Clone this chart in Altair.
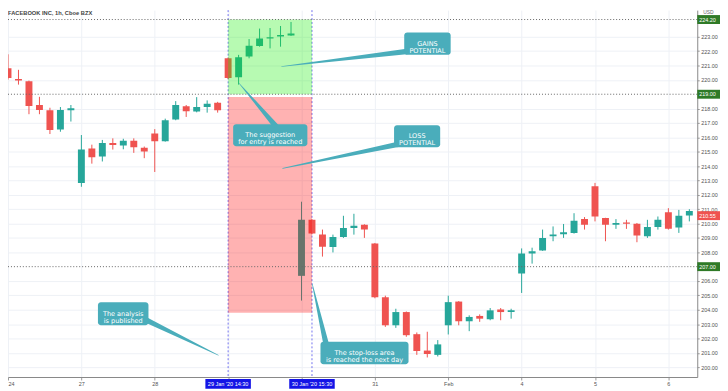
import altair as alt
import pandas as pd

# ---------------- data ----------------
idx = list(range(67))
opens = [220.24, 220.81, 220.06, 219.90, 218.25, 217.88, 216.55, 217.88,
         212.83, 215.22, 214.67, 215.61, 215.43, 215.77, 215.27,
         216.27, 215.72, 217.24, 218.16, 217.79, 218.11, 218.41,
         221.50, 220.19, 221.62, 222.36, 222.88, 223.02, 223.08,
         206.36, 210.26, 209.23, 208.36, 209.07, 209.69, 209.92,
         208.61, 204.87, 202.92, 203.84, 202.30, 201.16, 200.86,
         202.92, 204.57, 203.20, 203.57, 203.34, 204.02, 203.84,
         206.53, 207.92, 208.13, 209.11, 209.25, 209.35, 210.31,
         212.60, 210.38, 209.92, 210.08, 209.99, 209.11,
         209.76, 210.79, 209.73, 210.56]
highs = [220.45, 221.78, 220.70, 219.95, 218.82, 218.06, 218.11, 218.25,
         216.16, 215.49, 215.82, 215.93, 215.90, 215.93, 215.36,
         216.57, 217.30, 218.52, 218.25, 218.80, 218.57, 218.47,
         221.55, 221.74, 222.84, 223.57, 223.61, 223.75, 224.03,
         211.52, 210.30, 209.58, 209.23, 210.54, 210.68, 209.95,
         208.65, 204.98, 204.07, 203.88, 202.42, 202.47, 201.89,
         204.98, 204.60, 203.61, 203.68, 204.12, 204.12, 204.07,
         208.27, 208.32, 209.58, 209.80, 209.97, 210.72, 210.45,
         212.83, 210.40, 210.31, 210.26, 210.04, 210.26,
         210.49, 211.07, 210.95, 211.00]
lows = [219.60, 220.02, 219.67, 217.61, 217.61, 216.23, 216.39, 217.10,
        212.56, 214.17, 214.32, 215.15, 215.17, 214.92, 214.55,
        213.59, 215.70, 217.19, 217.42, 217.74, 217.72, 217.72,
        220.05, 219.67, 221.50, 222.31, 222.19, 222.31, 223.06,
        204.64, 209.25, 207.70, 207.99, 209.00, 209.23, 209.00,
        204.80, 202.81, 202.74, 202.12, 200.86, 200.68, 200.75,
        202.28, 202.92, 202.51, 203.16, 203.27, 203.27, 203.38,
        205.17, 207.21, 208.10, 208.77, 209.00, 209.30, 209.58,
        210.15, 208.77, 209.63, 209.63, 208.70, 209.00,
        209.58, 209.58, 209.35, 210.15]
closes = [219.76, 220.13, 219.95, 218.18, 217.90, 216.51, 217.90, 218.02,
          215.15, 214.62, 215.61, 215.47, 215.77, 215.31, 215.01,
          215.72, 217.19, 218.25, 217.81, 218.11, 218.34, 217.88,
          220.13, 221.57, 222.38, 222.88, 222.97, 223.13, 223.22,
          210.26, 209.30, 208.39, 209.07, 209.69, 209.85, 209.58,
          204.87, 202.92, 203.84, 202.23, 201.13, 200.92, 201.59,
          204.53, 203.20, 203.50, 203.38, 203.96, 203.84, 203.96,
          207.92, 208.08, 209.00, 209.23, 209.39, 210.19, 209.92,
          210.49, 209.92, 210.04, 209.99, 209.16, 209.76,
          210.26, 209.64, 210.54, 210.88]

# day ticks (labels for 29 and 30 Jan are hidden behind the crosshair tags)
day_ticks = [1, 8, 15, 22, 29, 36, 43, 50, 57, 64]
day_labels = ["24", "27", "28", "", "", "31", "Feb", "4", "5", "6"]

price_ticks = [200, 201, 202, 203, 204, 205, 206, 208, 209, 210, 211, 212,
               213, 214, 215, 216, 217, 218, 220, 221, 222, 223]

level_values = [224.20, 219.00, 207.00]
last_price = [210.55]

zone_names = ["gain", "loss"]
zone_i0 = [22, 22]
zone_i1 = [30, 30]
zone_lo = [219.0, 203.8]
zone_hi = [224.2, 218.8]

marker_i = [22, 30]
marker_labels = ["29 Jan '20   14:30", "30 Jan '20   15:30"]

callout_text = ["GAINS\nPOTENTIAL", "LOSS\nPOTENTIAL",
                "The suggestion\nfor entry is reached",
                "The analysis\nis published",
                "The stop-loss area\nis reached the next day"]
callout_i0 = [38.80, 37.83, 22.48, 9.58, 30.81]
callout_i1 = [43.23, 42.23, 29.56, 14.40, 39.21]
callout_lo = [221.74, 215.31, 215.38, 202.92, 200.21]
callout_hi = [223.29, 216.85, 216.92, 204.53, 201.78]
base_i = [40.41, 39.46, 26.92, 13.52, 31.44]
base_p = [222.10, 215.70, 216.46, 203.52, 201.32]
tip_i = [27.10, 27.20, 23.05, 21.07, 30.03]
tip_p = [220.93, 213.84, 219.76, 200.84, 205.79]

title_text = "FACEBOOK INC, 1h, Cboe BZX"

# ---------------- style ----------------
UP = "#26a69a"
DOWN = "#ef5350"
CALLOUT = "#4aadbb"
TAG_GREEN = "#2f7a27"
W, H = 697, 371
FONT = "Liberation Sans"

xs = alt.Scale(domain=[1.0, 66.755], nice=False, zero=False)
ys = alt.Scale(domain=[199.32, 224.854], nice=False, zero=False)

label_expr = " : ".join(f"datum.value == {t} ? '{lab}'" for t, lab in zip(day_ticks, day_labels)) + " : ''"

xaxis = alt.Axis(values=day_ticks, labelExpr=label_expr, grid=True, gridColor="#eef1f6",
                 tickSize=3, tickColor="#999999", domainColor="#888888", labelFontSize=5.5,
                 labelFont=FONT, labelColor="#555555", labelPadding=2, labelFlush=5,
                 labelOverlap=False, title=None)
yaxis = alt.Axis(orient="right", values=price_ticks, format=".2f", grid=True, gridColor="#eef1f6",
                 tickSize=2, tickColor="#999999", domainColor="#888888", labelFontSize=5.5,
                 labelFont=FONT, labelColor="#555555", labelPadding=1.5, labelFlush=False,
                 labelOverlap=False, labelBound=False, title=None)


def X(f):
    return alt.X(f, scale=xs, axis=xaxis)


def Y(f):
    return alt.Y(f, scale=ys, axis=yaxis)


candles = pd.DataFrame({"i": idx, "o": opens, "h": highs, "l": lows, "c": closes})
dir_calc = "datum.c >= datum.o ? 'up' : 'down'"
col = alt.Color("dir:N", scale=alt.Scale(domain=["up", "down"], range=[UP, DOWN]), legend=None)

markers = pd.DataFrame({"i": marker_i, "label": marker_labels})
vlines = alt.Chart(markers).mark_rule(color="#7373f0", strokeDash=[2, 2], strokeWidth=1).encode(
    x=X("i:Q"))

wicks = alt.Chart(candles).transform_calculate(dir=dir_calc).mark_rule(strokeWidth=1, clip=True).encode(
    x=X("i:Q"), y=Y("l:Q"), y2="h:Q", color=col)

bodies = alt.Chart(candles).transform_calculate(dir=dir_calc).mark_rect(
    clip=True, xOffset=-3.5, x2Offset=3.5).encode(
    x=X("i:Q"), x2="i:Q", y=Y("o:Q"), y2="c:Q", color=col)

zones = pd.DataFrame({"name": zone_names, "i0": zone_i0, "i1": zone_i1, "lo": zone_lo, "hi": zone_hi})
zone_layer = alt.Chart(zones).mark_rect(opacity=0.3).encode(
    x=X("i0:Q"), x2="i1:Q", y=Y("lo:Q"), y2="hi:Q",
    fill=alt.condition("datum.name == 'gain'", alt.value("#11ee00"), alt.value("#ff0000")))

levels = pd.DataFrame({"v": level_values})
level_lines = alt.Chart(levels).mark_rule(color="#666666", strokeDash=[1, 2], strokeWidth=1).encode(
    y=Y("v:Q"))

rows = []
for k in range(len(callout_text)):
    rows.append({"id": k, "ord": 0, "i": base_i[k], "p": base_p[k], "w": 6.0})
    rows.append({"id": k, "ord": 1, "i": tip_i[k], "p": tip_p[k], "w": 0.6})
wedge_df = pd.DataFrame(rows)
wedges = alt.Chart(wedge_df).mark_trail(color=CALLOUT).encode(
    x=X("i:Q"), y=Y("p:Q"),
    size=alt.Size("w:Q", scale=None, legend=None),
    detail="id:N", order="ord:Q")

callouts = pd.DataFrame({"text": callout_text, "i0": callout_i0, "i1": callout_i1,
                         "lo": callout_lo, "hi": callout_hi})
callout_boxes = alt.Chart(callouts).mark_rect(color=CALLOUT, cornerRadius=3).encode(
    x=X("i0:Q"), x2="i1:Q", y=Y("lo:Q"), y2="hi:Q")
callout_texts = alt.Chart(callouts).transform_calculate(
    ic="(datum.i0 + datum.i1) / 2", pc="(datum.lo + datum.hi) / 2").mark_text(
    color="white", font="DejaVu Sans", fontSize=6.6, lineBreak="\n", lineHeight=7,
    align="center", baseline="middle").encode(
    x=X("ic:Q"), y=Y("pc:Q"), text="text:N")

tag_df = pd.DataFrame({"v": level_values + last_price, "kind": ["lvl"] * len(level_values) + ["last"]})
tags = alt.Chart(tag_df).mark_rect(yOffset=-4.5, y2Offset=4.5).encode(
    x=alt.value(W), x2=alt.value(W + 23),
    y=Y("v:Q"), y2="v:Q",
    fill=alt.condition("datum.kind == 'last'", alt.value(DOWN), alt.value(TAG_GREEN)))
tag_texts = alt.Chart(tag_df).mark_text(color="white", font=FONT, fontSize=5.5, align="left",
                                         baseline="middle").encode(
    x=alt.value(W + 2), y=Y("v:Q"), text=alt.Text("v:Q", format=".2f"))

time_tags = alt.Chart(markers).mark_rect(color="#1414e6", xOffset=-23, x2Offset=23).encode(
    x=X("i:Q"), x2="i:Q", y=alt.value(H + 2), y2=alt.value(H + 12))
time_texts = alt.Chart(markers).mark_text(color="white", font=FONT, fontSize=5.6,
                                          align="center", baseline="middle").encode(
    x=X("i:Q"), y=alt.value(H + 7), text="label:N")

title_df = pd.DataFrame({"t": [title_text]})
title = alt.Chart(title_df).mark_text(color="#444444", font=FONT, fontSize=5.8, fontWeight="bold",
                                      align="left", baseline="top").encode(
    x=alt.value(0), y=alt.value(0), text="t:N")
usd_df = pd.DataFrame({"t": ["USD"]})
usd = alt.Chart(usd_df).mark_text(color="#666666", font=FONT, fontSize=5, align="left",
                                  baseline="middle").encode(
    x=alt.value(W + 6), y=alt.value(2), text="t:N")

chart = alt.layer(
    vlines, wicks, bodies, zone_layer, level_lines, wedges, callout_boxes, callout_texts,
    tags, tag_texts, time_tags, time_texts, title, usd
).properties(
    width=W, height=H,
    autosize=alt.AutoSizeParams(type="none"),
    padding={"left": 0, "top": 0, "right": 23, "bottom": 12},
    background="white"
).configure_view(stroke=None).configure_axis(labelOverlap=False)

chart.save("out.html", embed_options={"renderer": "svg", "actions": False})
